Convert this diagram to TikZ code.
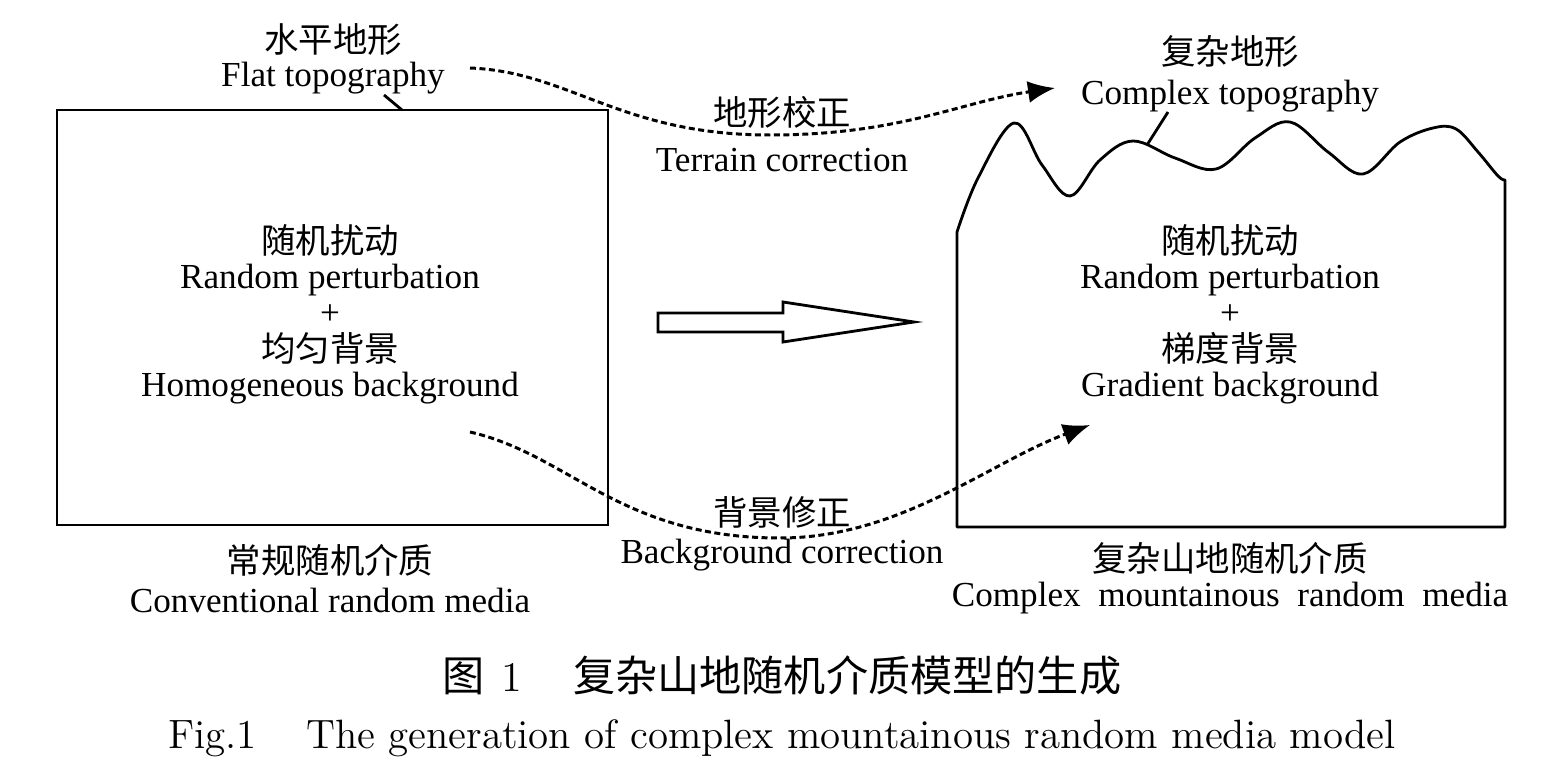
\documentclass[tikz,border=0pt]{standalone}
\usepackage{fontspec}
\newfontfamily\tms{Liberation Serif}
\newfontfamily\cjk{Noto Sans CJK SC}
\usetikzlibrary{arrows.meta}

\tikzset{
  en/.style={inner sep=0pt, yshift=-0.3mm, font=\tms\fontsize{10}{12}\selectfont},
  zh/.style={inner sep=0pt, font=\cjk\fontsize{9.8}{12}\selectfont},
  corr/.style={line width=0.85pt, dash pattern=on 1.7pt off 1pt,
    -{Latex[length=2.7mm,width=2.2mm]}},
  edge/.style={line width=0.8pt}
}

\begin{document}
\begin{tikzpicture}[x=0.1mm,y=-0.1mm]
\useasboundingbox (0,0) rectangle (1550,762);
\begin{scope}
% flat model
\draw[edge] (57,110) rectangle (608,525);
\draw (333,40) node[zh] (flatzh) {水平地形};
\draw (333,75) node[en] (flat) {Flat topography};
\coordinate (flA) at (384,95);
\coordinate (flB) at (402,110);
\draw[edge] (flA) -- (flB);

\draw (330,240) node[zh] (lz1) {随机扰动};
\draw (330,277) node[en] (le1) {Random perturbation};
\draw (330,312) node[en] (lplus) {+};
\draw (330,348) node[zh] (lz2) {均匀背景};
\draw (330,385) node[en] (le2) {Homogeneous background};

\draw (330,560) node[zh] (convzh) {常规随机介质};
\draw (330,597) node[en] (conv) {Conventional random media};

% mountain model
\draw[edge, line join=round] (957,527) -- (957,232)
  -- plot[smooth, tension=0.6] coordinates {(957,232) (978,178) (1014,123) (1042,165)
    (1070,196) (1100,160) (1133,141) (1175,158) (1216,169) (1255,138)
    (1290,122) (1328,152) (1363,174) (1400,142) (1433,128) (1456,129)
    (1478,152) (1498,176) (1505,180)}
  -- (1505,527) -- cycle;
\draw (1230,52) node[zh] (cplxzh) {复杂地形};
\draw (1230,93) node[en] (cplx) {Complex topography};
\coordinate (mtA) at (1147,145);
\coordinate (mtB) at (1168,112);
\draw[edge] (mtA) -- (mtB);

\draw (1230,240) node[zh] (rz1) {随机扰动};
\draw (1230,277) node[en] (re1) {Random perturbation};
\draw (1230,312) node[en] (rplus) {+};
\draw (1230,348) node[zh] (rz2) {梯度背景};
\draw (1230,385) node[en] (re2) {Gradient background};

\draw (1230,558) node[zh] (mntzh) {复杂山地随机介质};
\draw (1230,595) node[en] (mnt) {Complex\ \ mountainous\ \ random\ \ media};

% corrections
\draw (782,112) node[zh] (terzh) {地形校正};
\draw (782,157) node[en] (ter) {Terrain correction};
\coordinate (t0) at (470,68);
\coordinate (t1) at (1055,88);
\draw[corr] (t0) .. controls (570,72) and (620,135) .. (770,135)
  .. controls (900,135) and (960,102) .. (t1);

\draw (782,512) node[zh] (bgzh) {背景修正};
\draw (782,552) node[en] (bg) {Background correction};
\coordinate (b0) at (470,432);
\coordinate (b1) at (1090,425);
\draw[corr] (b0) .. controls (570,455) and (620,538) .. (780,538)
  .. controls (900,538) and (990,462) .. (b1);

% hollow arrow
\draw[edge] (658,313) -- (783,313) -- (783,302) -- (914,322)
  -- (783,342) -- (783,332) -- (658,332) -- cycle;

% caption
\draw (782,675) node[inner sep=0pt, font=\fontsize{12}{14}\selectfont] (capzh)
  {{\cjk 图}\hspace{0.4em}1\hspace{1.2em}{\cjk 复杂山地随机介质模型的生成}};
\draw (782,738) node[inner sep=0pt, font=\fontsize{11.65}{14}\selectfont] (capen)
  {Fig.1\hspace{1.2em}The generation of complex mountainous random media model};
\end{scope}
\end{tikzpicture}
\end{document}
